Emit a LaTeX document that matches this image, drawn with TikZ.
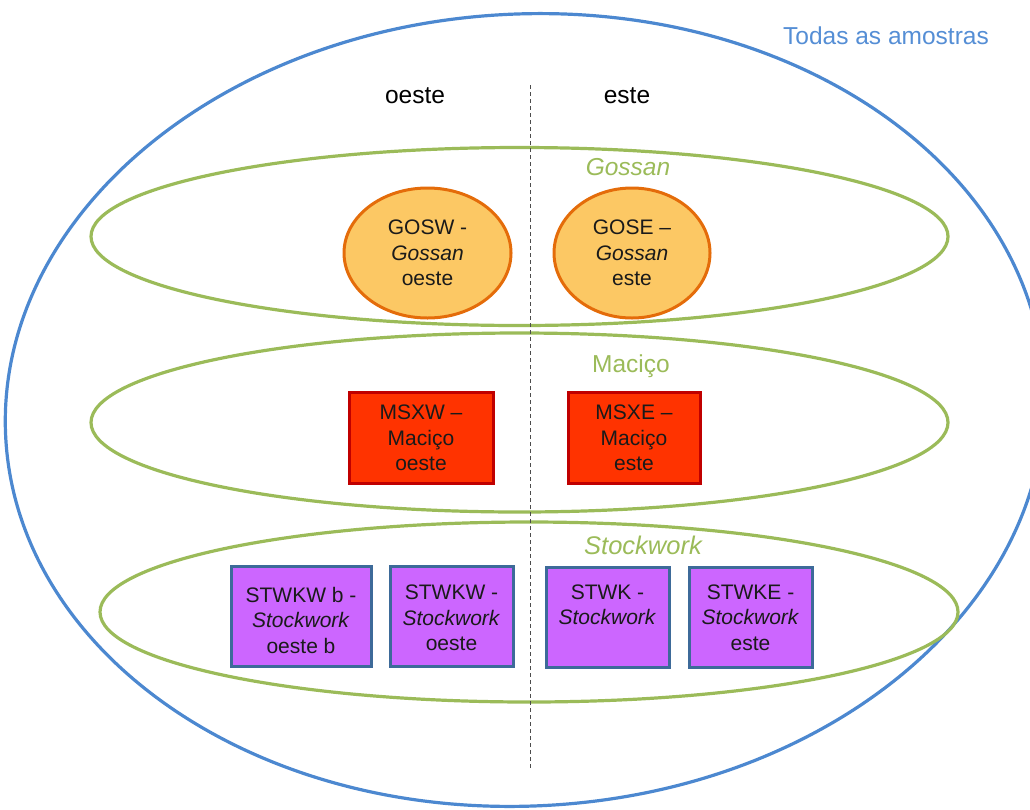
\documentclass[tikz,border=0pt]{standalone}
\usepackage{fontspec}
\setmainfont{Liberation Sans}
\usetikzlibrary{shapes.geometric}
\definecolor{allblue}{HTML}{4C88D0}
\definecolor{alltext}{HTML}{558ED5}
\definecolor{grp}{HTML}{9BBB59}
\definecolor{gosfill}{HTML}{FCC864}
\definecolor{gosline}{HTML}{E46C0A}
\definecolor{msxfill}{HTML}{FF3300}
\definecolor{msxline}{HTML}{C00000}
\definecolor{stwfill}{HTML}{CC66FF}
\definecolor{stwline}{HTML}{3D6A99}
\definecolor{inktext}{HTML}{1A1A1A}
\begin{document}
\begin{tikzpicture}[x=1pt,y=-1pt,
  bigell/.style={ellipse, draw=allblue, line width=3.2pt, inner sep=0pt,
    minimum width=1040pt, minimum height=792pt},
  grpell/.style={ellipse, draw=grp, line width=3.2pt, inner sep=0pt,
    minimum width=857pt, minimum height=178pt},
  gosell/.style={ellipse, draw=gosline, fill=gosfill, line width=3pt, inner sep=0pt,
    minimum height=130pt, align=center, text=inktext,
    font=\fontsize{21}{25.5}\selectfont},
  msxbox/.style={rectangle, draw=msxline, fill=msxfill, line width=3pt, inner sep=0pt,
    minimum width=142pt, minimum height=91pt, align=center, text=inktext,
    font=\fontsize{21}{25.5}\selectfont},
  stwbox/.style={rectangle, draw=stwline, fill=stwfill, line width=3pt, inner sep=0pt,
    minimum height=100pt},
  stwtext/.style={anchor=north, inner sep=0pt, align=center, text=inktext,
    font=\fontsize{21}{25.5}\selectfont},
  grplabel/.style={anchor=base, inner sep=0pt, text=grp,
    font=\fontsize{24.5}{29}\selectfont},
  sidelabel/.style={anchor=base, inner sep=0pt, text=black,
    font=\fontsize{24.5}{29}\selectfont},
  divider/.style={draw=black!70, line width=1pt, dash pattern=on 4pt off 3pt}
]
\useasboundingbox (0,0) rectangle (1030,809);
% outer set
\node[bigell, rotate=3] (all) at (525,410) {};
\node[anchor=base, inner sep=0pt, text=alltext, font=\fontsize{24.5}{29}\selectfont]
  (alllabel) at (886,44) {Todas as amostras};
% group ellipses
\node[grpell] (gosgrp) at (519.5,236.5) {};
\node[grpell, minimum height=179pt] (msxgrp) at (519.5,422.5) {};
\node[grpell, minimum width=858pt, minimum height=180pt] (stwgrp) at (529,612) {};
% divider
\coordinate (dtop) at (530,85);
\coordinate (dbot) at (530,770);
\draw[divider] (dtop) -- (dbot);
% side labels
\node[sidelabel] (oeste) at (415,103.5) {oeste};
\node[sidelabel] (este) at (627,103.5) {este};
% group labels
\node[grplabel] (goslabel) at (628,175) {\itshape Gossan};
\node[grplabel] (msxlabel) at (631,372) {Maciço};
\node[grplabel, font=\fontsize{25.5}{29}\selectfont] (stwlabel) at (643,554) {\itshape Stockwork};
% Gossan
\node[gosell, minimum width=167pt] (gosw) at (427.5,253) {GOSW -\\\textit{Gossan}\\oeste};
\node[gosell, minimum width=156pt] (gose) at (632,253) {GOSE –\\\textit{Gossan}\\este};
% Macico
\node[msxbox, minimum width=144pt] (msxw) at (421,438) {MSXW –\\Maciço\\oeste};
\node[msxbox, minimum width=132pt] (msxe) at (634,438) {MSXE –\\Maciço\\este};
% Stockwork
\node[stwbox, minimum width=140pt] (stwkwb) at (301,616.5) {};
\node[stwbox, minimum width=123pt] (stwkw) at (451.5,616.5) {};
\node[stwbox, minimum width=123pt] (stwk) at (607.5,617) {};
\node[stwbox, minimum width=123pt] (stwke) at (750.5,617) {};
\node[stwtext] (tstwkwb) at ([yshift=-22pt]stwkwb.north) {STWKW b -\\\textit{Stockwork}\\oeste b};
\node[stwtext] (tstwkw) at ([yshift=-20pt]stwkw.north) {STWKW -\\\textit{Stockwork}\\oeste};
\node[stwtext] (tstwk) at ([yshift=-19pt]stwk.north) {STWK -\\\textit{Stockwork}};
\node[stwtext] (tstwke) at ([yshift=-19pt]stwke.north) {STWKE -\\\textit{Stockwork}\\este};
\end{tikzpicture}
\end{document}
